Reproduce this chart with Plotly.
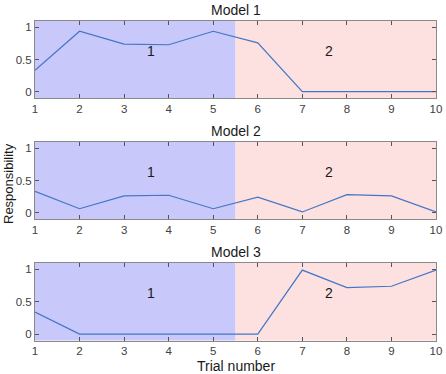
import plotly.graph_objects as go

trials = [1, 2, 3, 4, 5, 6, 7, 8, 9, 10]
model1 = [0.33, 0.94, 0.74, 0.73, 0.94, 0.76, 0.0, 0.0, 0.0, 0.0]
model2 = [0.33, 0.06, 0.26, 0.27, 0.06, 0.24, 0.01, 0.28, 0.26, 0.01]
model3 = [0.34, 0.0, 0.0, 0.0, 0.0, 0.0, 0.99, 0.72, 0.74, 0.99]
titles = ["Model 1", "Model 2", "Model 3"]
region_bounds = [1, 5.5, 10]
region_labels = ["1", "2"]
region_label_x = [3.6, 7.6]
region_label_y = 0.63
yticks = [0, 0.5, 1]
ytick_text = ["0", "0.5", "1"]

series = [model1, model2, model3]
H = 374.0
W = 446.0
panels_px = [(21, 98), (142, 219), (263, 340.5)]
xdom = [35 / W, 436 / W]
fills = ["rgba(200,200,250,1)", "rgba(253,224,224,1)"]
line_color = "#4276c6"
font_family = "Liberation Sans, Arial, sans-serif"

fig = go.Figure()
for i, (vals, (top, bot)) in enumerate(zip(series, panels_px)):
    n = "" if i == 0 else str(i + 1)
    xa = "x" + n
    ya = "y" + n
    fig.add_trace(go.Scatter(x=trials, y=vals, mode="lines",
                             line=dict(color=line_color, width=1.2),
                             xaxis=xa, yaxis=ya, showlegend=False))
    dom = [1 - bot / H, 1 - top / H]
    axis_common = dict(showline=True, linecolor="#8a8a8a", linewidth=1,
                       mirror="ticks", ticks="inside", ticklen=4,
                       tickcolor="#555555", showgrid=False, zeroline=False,
                       automargin=False,
                       tickfont=dict(size=11.5, color="#404040", family=font_family))
    fig.layout["xaxis" + n] = dict(domain=xdom, range=[1, 10], tickvals=trials,
                                   anchor=ya, **axis_common)
    fig.layout["yaxis" + n] = dict(domain=dom, range=[-0.1, 1.1], tickvals=yticks,
                                   ticktext=ytick_text, anchor=xa, **axis_common)
    for k in range(2):
        fig.add_shape(type="rect", xref=xa, yref=ya + " domain",
                      x0=region_bounds[k], x1=region_bounds[k + 1], y0=0, y1=1,
                      fillcolor=fills[k], line=dict(width=0), layer="below")
        fig.add_annotation(x=region_label_x[k], y=region_label_y, xref=xa, yref=ya,
                           text=region_labels[k], showarrow=False,
                           xanchor="center", yanchor="middle",
                           font=dict(size=14, color="#1a1a1a", family=font_family))
    fig.add_annotation(x=(xdom[0] + xdom[1]) / 2, y=dom[1], xref="paper", yref="paper",
                       xanchor="center", yanchor="bottom", yshift=1, text=titles[i],
                       showarrow=False,
                       font=dict(size=14, color="#1a1a1a", family=font_family))

fig.add_annotation(x=(xdom[0] + xdom[1]) / 2, y=1 - 366 / H, xref="paper", yref="paper",
                   xanchor="center", yanchor="middle",
                   text="Trial number", showarrow=False,
                   font=dict(size=14, color="#1a1a1a", family=font_family))
fig.add_annotation(x=8 / W, y=1 - 184 / H, xref="paper", yref="paper",
                   xanchor="center", yanchor="middle",
                   text="Responsibility", textangle=-90, showarrow=False,
                   font=dict(size=13, color="#1a1a1a", family=font_family))

fig.update_layout(width=446, height=374, margin=dict(l=0, r=0, t=0, b=0, pad=0),
                  paper_bgcolor="white", plot_bgcolor="white")
fig.write_html("out.html")
